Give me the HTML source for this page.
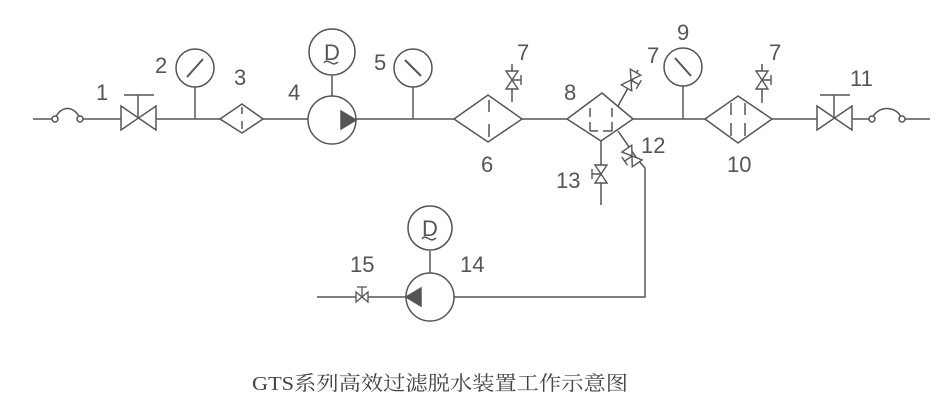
<!DOCTYPE html>
<html><head><meta charset="utf-8"><style>
html,body{margin:0;padding:0;background:#fff;width:951px;height:406px;overflow:hidden}
svg{display:block}
text{font-family:"Liberation Sans",sans-serif;fill:#555;font-size:22px}
</style></head><body>
<svg width="951" height="406" viewBox="0 0 951 406" xmlns="http://www.w3.org/2000/svg">
<defs>
<g id="sv"><path d="M-6,-9 L6,-9 L-6,9 L6,9 Z" fill="#fff" stroke="#555" stroke-width="1.4"/><path d="M9,-5 L9,5 M0,0 H9" stroke="#555" stroke-width="1.4"/></g>
</defs>
<g stroke="#555" stroke-width="1.5" fill="none">
<path d="M33,119 H55 M80,119 H121 M156,119 H220 M263,119 H308 M356,119 H454 M522,119 H567 M633,119 H705 M772,119 H817 M852,119 H872 M902,119 H930"/>
<path d="M55,119 C60,105 75,105 80,119"/>
<circle cx="55" cy="119" r="3" fill="#fff"/><circle cx="80" cy="119" r="3" fill="#fff"/>
<path d="M872,119 C877,105 897,105 902,119"/>
<circle cx="872" cy="119" r="3" fill="#fff"/><circle cx="902" cy="119" r="3" fill="#fff"/>
<path d="M121,106 L156,130 L156,106 L121,130 Z M138,118 V95 M124,95 H154"/>
<path d="M817,106 L852,130 L852,106 L817,130 Z M834,118 V95 M820,95 H850"/>
<circle cx="195" cy="68" r="19"/><path d="M195,87 V119"/><path d="M187,77 L203,59" stroke-width="2"/>
<circle cx="413" cy="68" r="19"/><path d="M413,87 V119"/><path d="M405,60 L421,76" stroke-width="2"/>
<circle cx="683" cy="67" r="19"/><path d="M683,86 V119"/><path d="M675,58 L691,76" stroke-width="2"/>
<path d="M220,119 L242,104 L263,119 L242,133 Z M242,107 V114 M242,121 V129"/>
<circle cx="332" cy="120" r="24"/><path d="M332,96 V76"/><circle cx="332" cy="52" r="23"/>
<path d="M341,111 L356,120 L341,129 Z" fill="#555"/>
<path d="M324,63 C328,57 332,68 338,62"/>
<path d="M454,119 L488,95 L522,119 L488,142 Z M489,100 V112 M489,124 V137"/>
<path d="M512,102 V64"/>
<path d="M567,119 L602,93 L633,119 L601,141 Z"/>
<path d="M590,108 V117 M590,122 V131 M612,108 V117 M612,122 V131 M590,131 H598 M603,131 H612" />
<path d="M618,106 L638,70 M618,131 L638,160 L645,168 V297 H454"/>
<path d="M601,141 V205"/>
<path d="M705,119 L738,96 L772,119 L738,143 Z M731,103 V115 M731,123 V136 M745,103 V115 M745,123 V136"/>
<path d="M762,103 V64"/>
<circle cx="430" cy="297" r="24"/><path d="M430,273 V251"/><circle cx="430" cy="228" r="22"/>
<path d="M421,288 L406,297 L421,306 Z" fill="#555"/>
<path d="M422,239 C426,233 430,244 436,238"/>
<path d="M317,297 H406"/>
</g>
<use href="#sv" x="512" y="80"/>
<use href="#sv" x="762" y="80"/>
<g transform="translate(601,174) scale(-1,1)"><use href="#sv"/></g>
<g transform="translate(631,80) rotate(30)"><use href="#sv"/></g>
<g transform="translate(632,156) rotate(-35) scale(-1,1)"><use href="#sv"/></g>
<g transform="translate(362,297) rotate(90)"><path d="M-5,-6 L5,-6 L-5,6 L5,6 Z" fill="#fff" stroke="#555" stroke-width="1.3"/></g>
<path d="M362,297 V287 M357,287 H367" stroke="#555" stroke-width="1.3"/>
<text x="332" y="60" text-anchor="middle" font-size="24">D</text>
<text x="430" y="236" text-anchor="middle" font-size="23">D</text>
<text x="96" y="100">1</text>
<text x="155" y="73">2</text>
<text x="234" y="85">3</text>
<text x="288" y="100">4</text>
<text x="374" y="70">5</text>
<text x="481" y="172">6</text>
<text x="517" y="60">7</text>
<text x="564" y="100">8</text>
<text x="647" y="63">7</text>
<text x="677" y="40">9</text>
<text x="769" y="60">7</text>
<text x="850" y="86">11</text>
<text x="727" y="172">10</text>
<text x="641" y="153">12</text>
<text x="556" y="188">13</text>
<text x="350" y="272">15</text>
<text x="460" y="272">14</text>
<text x="252" y="390" textLength="376" lengthAdjust="spacingAndGlyphs" style='font-family:"Liberation Serif","Noto Serif CJK SC",serif;font-size:20px;fill:#444'>GTS系列高效过滤脱水装置工作示意图</text>
</svg>
</body></html>
